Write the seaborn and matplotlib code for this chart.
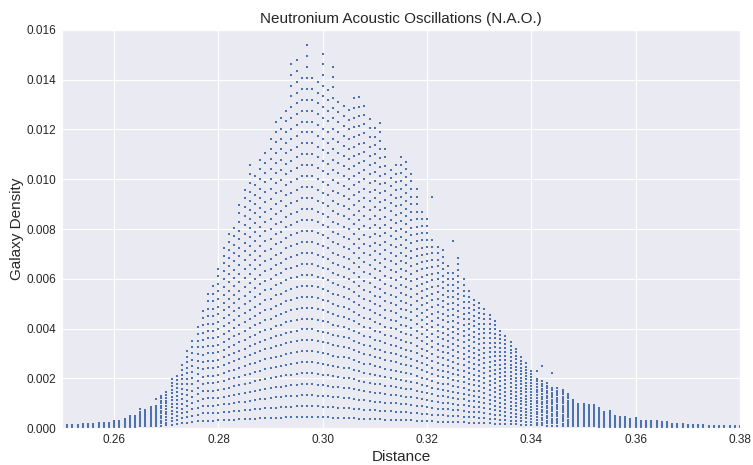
import matplotlib
matplotlib.use("Agg")
import matplotlib.pyplot as plt
import seaborn as sns
import numpy as np
import pandas as pd

# distance bins (one column of points per bin)
distance = [
    0.250, 0.251, 0.252, 0.253, 0.254, 0.255, 0.256, 0.257, 0.258, 0.259,
    0.260, 0.261, 0.262, 0.263, 0.264, 0.265, 0.266, 0.267, 0.268, 0.269,
    0.270, 0.271, 0.272, 0.273, 0.274, 0.275, 0.276, 0.277, 0.278, 0.279,
    0.280, 0.281, 0.282, 0.283, 0.284, 0.285, 0.286, 0.287, 0.288, 0.289,
    0.290, 0.291, 0.292, 0.293, 0.294, 0.295, 0.296, 0.297, 0.298, 0.299,
    0.300, 0.301, 0.302, 0.303, 0.304, 0.305, 0.306, 0.307, 0.308, 0.309,
    0.310, 0.311, 0.312, 0.313, 0.314, 0.315, 0.316, 0.317, 0.318, 0.319,
    0.320, 0.321, 0.322, 0.323, 0.324, 0.325, 0.326, 0.327, 0.328, 0.329,
    0.330, 0.331, 0.332, 0.333, 0.334, 0.335, 0.336, 0.337, 0.338, 0.339,
    0.340, 0.341, 0.342, 0.343, 0.344, 0.345, 0.346, 0.347, 0.348, 0.349,
    0.350, 0.351, 0.352, 0.353, 0.354, 0.355, 0.356, 0.357, 0.358, 0.359,
    0.360, 0.361, 0.362, 0.363, 0.364, 0.365, 0.366, 0.367, 0.368, 0.369,
    0.370, 0.371, 0.372, 0.373, 0.374, 0.375, 0.376, 0.377, 0.378, 0.379,
    0.380,
]

# highest density of the dense stack in each bin (units of 1e-4)
top_density = [
    1.1, 1.1, 1.1, 1.2, 1.6, 1.5, 1.6, 2.0, 1.8, 2.0,
    2.9, 2.9, 3.6, 5.0, 5.0, 6.5, 7.5, 8.0, 9.0, 13,
    14, 19, 21, 25, 30, 35, 40, 47, 54, 58,
    65, 71, 77, 80, 88, 97, 106, 100, 108, 112,
    115, 125, 123, 128, 146, 150, 141, 154, 139, 138,
    149, 135, 146, 133, 131, 130, 134, 133, 128, 124,
    119, 124, 113, 104, 105, 110, 106, 101, 97, 87,
    84, 75, 74, 71, 64, 63, 67, 60, 55, 52,
    51, 49, 45, 43, 39, 37, 34, 32, 29, 26,
    23, 20, 19, 18, 16, 16, 15, 14, 11, 10,
    10, 9, 9, 8, 6.5, 6.5, 5, 4.5, 4.5, 3.6,
    4.0, 3.0, 3.0, 3.0, 2.7, 2.4, 2.4, 1.6, 1.6, 1.5,
    1.2, 1.2, 1.1, 1.1, 1.0, 0.9, 0.9, 0.8, 0.8, 0.7,
    0.7,
]

# spacing between successive density levels in each bin (units of 1e-4)
level_step = [
    0.14, 0.14, 0.14, 0.15, 0.18, 0.18, 0.19, 0.22, 0.21, 0.22,
    0.30, 0.30, 0.35, 0.50, 0.50, 0.65, 0.72, 0.75, 0.80, 1.0,
    1.1, 1.4, 1.6, 1.95, 2.2, 2.5, 2.7, 2.95, 3.0, 3.0,
    3.05, 3.15, 3.25, 3.35, 3.45, 3.55, 3.65, 3.75, 3.85, 3.95,
    4.0, 4.1, 4.15, 4.25, 4.3, 4.35, 4.4, 4.4, 4.4, 4.35,
    4.3, 4.25, 4.15, 4.1, 4.05, 4.0, 3.9, 3.8, 3.7, 3.65,
    3.55, 3.5, 3.4, 3.35, 3.3, 3.2, 3.15, 3.1, 3.0, 2.9,
    2.8, 2.7, 2.6, 2.55, 2.5, 2.4, 2.35, 2.3, 2.2, 2.15,
    2.1, 2.0, 1.9, 1.8, 1.7, 1.6, 1.5, 1.45, 1.35, 1.3,
    1.2, 1.1, 1.05, 1.0, 0.95, 0.94, 0.9, 0.85, 0.75, 0.7,
    0.7, 0.65, 0.62, 0.58, 0.5, 0.48, 0.4, 0.37, 0.36, 0.3,
    0.32, 0.25, 0.25, 0.25, 0.23, 0.2, 0.2, 0.14, 0.14, 0.13,
    0.11, 0.11, 0.10, 0.10, 0.09, 0.08, 0.08, 0.07, 0.07, 0.06,
    0.06,
]

# stray points sitting above their bin's stack
stray_distance = [0.265, 0.268, 0.321, 0.325, 0.341, 0.342, 0.344]
stray_density = [0.00077, 0.00117, 0.0093, 0.0075, 0.0023, 0.0025, 0.0022]

x_ticks = [0.26, 0.28, 0.30, 0.32, 0.34, 0.36, 0.38]
y_ticks = [0.000, 0.002, 0.004, 0.006, 0.008, 0.010, 0.012, 0.014, 0.016]

# expand each bin into its stack of density levels
rows = []
for d, top, step in zip(distance, top_density, level_step):
    n = int(round(top / step))
    for k in range(1, n + 1):
        rows.append((d, k * step * 1e-4))
rows += list(zip(stray_distance, stray_density))
df = pd.DataFrame(rows, columns=["Distance", "Galaxy Density"])

sns.set_style("darkgrid")
plt.rcParams["font.family"] = ["Liberation Sans", "DejaVu Sans"]

fig = plt.figure(figsize=(7.53, 4.65), dpi=100)
ax = fig.add_axes([62 / 753, 1 - 428 / 465, 678 / 753, 398 / 465])
sns.scatterplot(data=df, x="Distance", y="Galaxy Density", ax=ax,
                s=1.6, marker="s", linewidth=0, color="#4C72B0")
ax.set_xlim(0.25, 0.38)
ax.set_ylim(0, 0.016)
ax.set_xticks(x_ticks)
ax.set_xticklabels([f"{t:.2f}" for t in x_ticks])
ax.set_yticks(y_ticks)
ax.set_yticklabels([f"{t:.3f}" for t in y_ticks])
ax.tick_params(labelsize=8.5, length=0, pad=4)
ax.set_title("Neutronium Acoustic Oscillations (N.A.O.)", fontsize=11, pad=5)
ax.set_xlabel("Distance", fontsize=11, labelpad=3)
ax.set_ylabel("Galaxy Density", fontsize=11, labelpad=2)

fig.savefig("out.png", dpi=100)
